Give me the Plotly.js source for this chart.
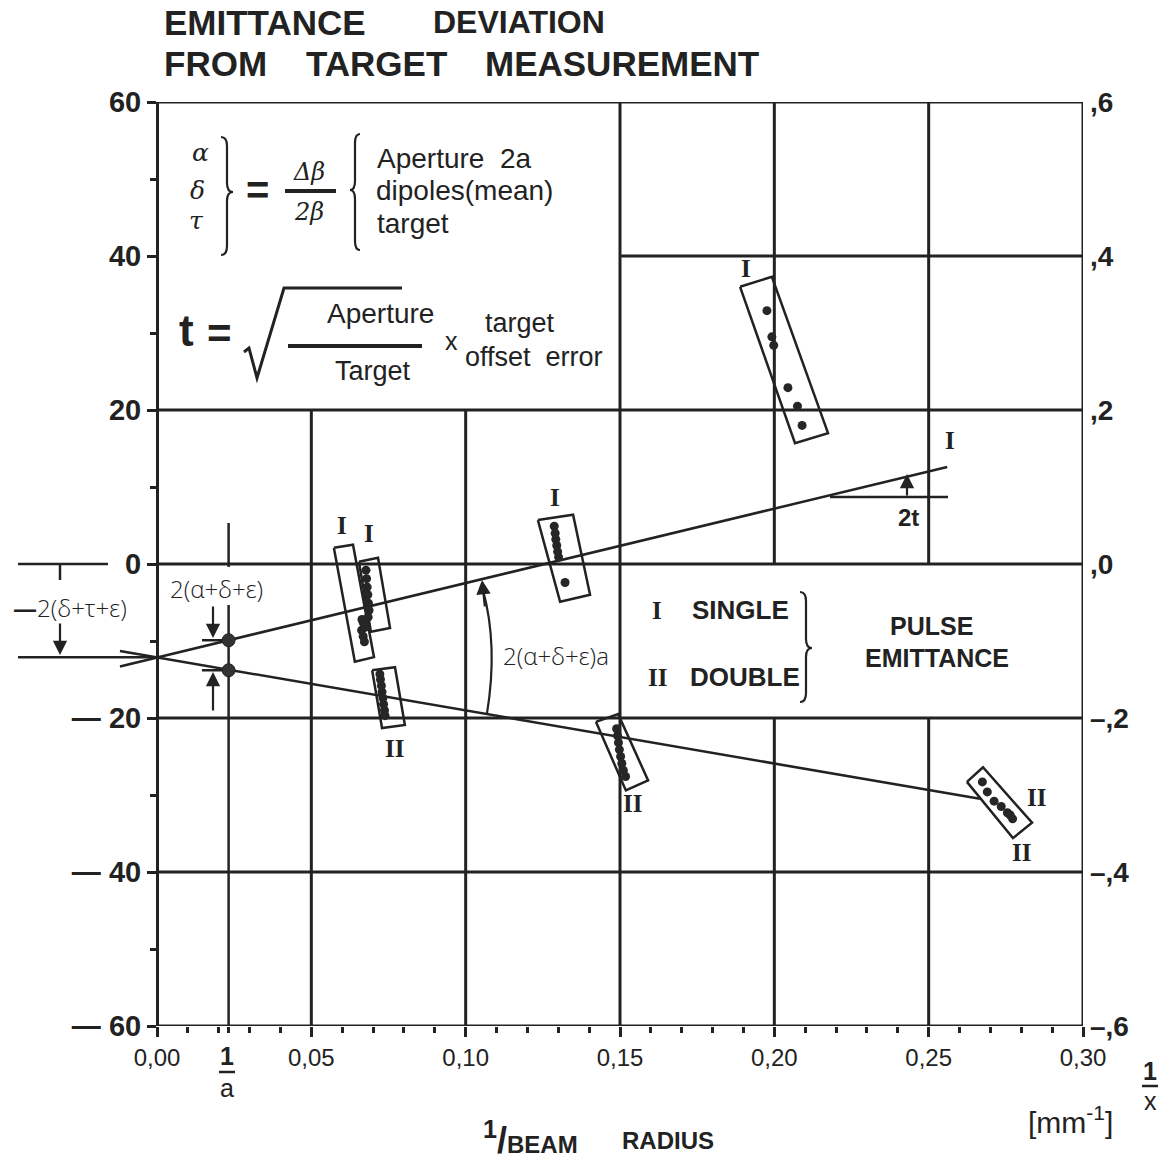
<!DOCTYPE html>
<html>
<head>
<meta charset="utf-8">
<script src="https://cdn.plot.ly/plotly-3.0.1.min.js"></script>
<style>
  html, body { margin: 0; padding: 0; background: #fff; }
  #chart { width: 1168px; height: 1161px; }
</style>
</head>
<body>
<div id="chart"></div>
<script>
// ---- axis ticks --------------------------------------------------------
const xTickVals = [0, 0.05, 0.10, 0.15, 0.20, 0.25, 0.30];
const xTickText = ['0,00', '0,05', '0,10', '0,15', '0,20', '0,25', '0,30'];
const xMinorVals = [0.01, 0.02, 0.03, 0.04, 0.06, 0.07, 0.08, 0.09, 0.11, 0.12, 0.13, 0.14,
                    0.16, 0.17, 0.18, 0.19, 0.21, 0.22, 0.23, 0.24, 0.26, 0.27, 0.28, 0.29];
const yTickVals = [-60, -40, -20, 0, 20, 40, 60];
const yTickText = ['\u2014 60', '\u2014 40', '\u2014 20', '0', '20', '40', '60'];
const yMinorVals = [-50, -30, -10, 10, 30, 50];
const y2TickVals = [-0.6, -0.4, -0.2, 0, 0.2, 0.4, 0.6];
const y2TickText = ['\u2013,6', '\u2013,4', '\u2013,2', ',0', ',2', ',4', ',6'];

// ---- aperture point 1/a and the two fitted lines -----------------------
const invA = 0.0232;
const apertureY = [-9.9, -13.8];
const interceptY = -12.1;
const lineSingleX = [-0.012, 0.256];
const lineSingleY = [-13.3, 12.6];
const lineDoubleX = [-0.012, 0.2666];
const lineDoubleY = [-11.3, -30.5];

// ---- measured points, single pulse (I) --------------------------------
const singleAX = [0.0677, 0.0679, 0.0681, 0.0683, 0.0685, 0.0687, 0.0684, 0.0668, 0.0663, 0.0668, 0.0672, 0.0676, 0.0664];
const singleAY = [-0.8, -1.9, -3.0, -4.0, -5.1, -6.0, -6.9, -7.6, -8.6, -9.4, -10.1, -8.2, -7.2];
const singleBX = [0.1287, 0.1290, 0.1292, 0.1295, 0.1298, 0.1301, 0.1322];
const singleBY = [4.9, 4.0, 3.2, 2.4, 1.6, 0.9, -2.4];
const singleCX = [0.1976, 0.1992, 0.1998, 0.2044, 0.2075, 0.2090];
const singleCY = [32.9, 29.5, 28.4, 22.9, 20.5, 18.0];

// ---- measured points, double pulse (II) --------------------------------
const doubleAX = [0.0722, 0.0724, 0.0727, 0.0729, 0.0732, 0.0734, 0.0737, 0.0739];
const doubleAY = [-14.3, -15.0, -15.8, -16.6, -17.4, -18.2, -19.0, -19.7];
const doubleBX = [0.1489, 0.1492, 0.1495, 0.1498, 0.1502, 0.1506, 0.1511, 0.1518];
const doubleBY = [-21.4, -22.3, -23.2, -24.1, -25.0, -25.9, -26.8, -27.6];
const doubleCX = [0.2674, 0.2690, 0.2712, 0.2735, 0.2755, 0.2772, 0.2764];
const doubleCY = [-28.3, -29.6, -30.8, -31.5, -32.3, -33.1, -32.6];

// ---- enclosing frames of each measurement group (corner points) ---------
const frameSingleA1X = [0.0573, 0.0635, 0.0703, 0.0641];
const frameSingleA1Y = [2.1, 2.5, -12.1, -12.7];
const frameSingleA2X = [0.0654, 0.0716, 0.0755, 0.0693];
const frameSingleA2Y = [0.3, 0.8, -8.3, -8.8];
const frameSingleBX = [0.1234, 0.1348, 0.1403, 0.1306];
const frameSingleBY = [5.7, 6.4, -4.0, -4.9];
const frameSingleCX = [0.1889, 0.1992, 0.2174, 0.2067];
const frameSingleCY = [36.0, 37.3, 17.0, 15.7];
const frameDoubleAX = [0.0697, 0.0771, 0.0803, 0.0729];
const frameDoubleAY = [-13.8, -13.4, -20.9, -21.3];
const frameDoubleBX = [0.1422, 0.1494, 0.1591, 0.1519];
const frameDoubleBY = [-20.5, -19.5, -28.1, -29.4];
const frameDoubleCX = [0.2624, 0.2676, 0.2835, 0.2773];
const frameDoubleCY = [-28.3, -26.4, -33.6, -35.6];

// ---- geometry helpers for the drawing layer ------------------------------
const INK = '#222';
const L = 10, R = 85, T = 102, B = 135, W = 1168, H = 1161;
const plotW = W - L - R, plotH = H - T - B;
const xMin = -(157 - L) / ((1083 - 157) / 0.30);
const pxPerX = (1083 - 157) / 0.30;
const pxPerY = plotH / 120;
// pixel -> data / paper for placing decorations
const X = px => (px - 157) / pxPerX;
const Y = py => (T + plotH / 2 - py) / pxPerY;
const PX = px => (px - L) / plotW;
const PY = py => (H - B - py) / plotH;

const closed = a => a.concat([a[0]]);

function seg(x0, y0, x1, y1, w) {
  return {type: 'line', xref: 'x', yref: 'y', x0: x0, y0: y0, x1: x1, y1: y1,
          line: {color: INK, width: w || 3}, layer: 'below'};
}
function pseg(x0, y0, x1, y1, w) {
  return {type: 'line', xref: 'paper', yref: 'paper', x0: x0, y0: y0, x1: x1, y1: y1,
          line: {color: INK, width: w || 2}};
}
// curly brace; base/tip/top/bottom/mid given in pixels
function brace(base, tip, top, bot, mid) {
  const xm = (base + tip) / 2, r = 9;
  const p = (a, b) => X(a) + ',' + Y(b);
  const d = 'M' + p(base, top) + ' Q' + p(xm, top) + ' ' + p(xm, top + r) +
            ' L' + p(xm, mid - r) + ' Q' + p(xm, mid) + ' ' + p(tip, mid) +
            ' Q' + p(xm, mid) + ' ' + p(xm, mid + r) +
            ' L' + p(xm, bot - r) + ' Q' + p(xm, bot) + ' ' + p(base, bot);
  return {type: 'path', xref: 'x', yref: 'y', path: d, line: {color: INK, width: 2.2}};
}

// ---- grid and frame ------------------------------------------------------
const shapes = [];
[60, 20, 0, -20, -40, -60].forEach(v => shapes.push(seg(0, v, 0.30, v)));
shapes.push(seg(0.15, 40, 0.30, 40));
shapes.push(seg(0.30, -60, 0.30, 60));
shapes.push(seg(0.05, -60, 0.05, 20));
shapes.push(seg(0.10, -60, 0.10, 20));
shapes.push(seg(0.15, -60, 0.15, 60));
[0.20, 0.25].forEach(v => { shapes.push(seg(v, -60, v, -20)); shapes.push(seg(v, 0, v, 60)); });
// 1/a marker line
shapes.push(seg(invA, Y(523), invA, Y(567), 2.5));
shapes.push(seg(invA, Y(605), invA, -60, 2.5));
// short level marks beside the 1/a points
apertureY.forEach(v => shapes.push(seg(X(202), v, invA, v, 2.5)));
// intercept marker on the left of the axis
shapes.push(seg(X(18), 0, X(108), 0, 2.5));
shapes.push(seg(X(60), 0, X(60), Y(580), 2.5));
shapes.push(seg(X(18), interceptY, 0, interceptY, 2.5));
// slope reference (2t)
shapes.push(seg(X(830), Y(497), X(948), Y(497), 2.5));
// angle arc between both lines
const arcStart = [X(487), Y(713.4)], arcCtl = [X(498.1), Y(645.8)], arcEnd = [X(483), Y(590)];
shapes.push({type: 'path', xref: 'x', yref: 'y', line: {color: INK, width: 2.2},
  path: 'M' + arcStart.join(',') + ' Q' + arcCtl.join(',') + ' ' + arcEnd.join(',')});
// formula: fraction bars and radical
shapes.push(seg(X(285), Y(191), X(336), Y(191), 4));
shapes.push(seg(X(288), Y(346), X(422), Y(346), 4));
shapes.push({type: 'path', xref: 'x', yref: 'y', line: {color: INK, width: 3},
  path: 'M' + X(244) + ',' + Y(352) + ' L' + X(249) + ',' + Y(348) + ' L' + X(257) + ',' + Y(378) +
        ' L' + X(284) + ',' + Y(288) + ' L' + X(402) + ',' + Y(288)});
shapes.push(brace(221, 233, 137, 255, 192));
shapes.push(brace(360, 350, 134, 250, 190));
shapes.push(brace(800, 812, 592, 702, 648));
// 1/a and 1/x fraction bars below the axis
shapes.push(pseg(PX(219), PY(1072), PX(235), PY(1072), 2.5));
shapes.push(pseg(PX(1142), PY(1086), PX(1158), PY(1086), 2.5));

// ---- traces ---------------------------------------------------------------
const lineStyle = {color: INK, width: 2.5};
const frameTrace = (xs, ys) => ({x: closed(xs), y: closed(ys), mode: 'lines', line: {color: INK, width: 2.5},
                                 hoverinfo: 'skip', showlegend: false});
const pointTrace = (xs, ys, name) => ({x: xs, y: ys, mode: 'markers', name: name,
                                       marker: {color: '#262626', size: 9, symbol: 'circle'}, showlegend: false});

const data = [
  {x: lineSingleX, y: lineSingleY, mode: 'lines', line: lineStyle, name: 'I', showlegend: false},
  {x: lineDoubleX, y: lineDoubleY, mode: 'lines', line: lineStyle, name: 'II', showlegend: false},
  frameTrace(frameSingleA1X, frameSingleA1Y),
  frameTrace(frameSingleA2X, frameSingleA2Y),
  frameTrace(frameSingleBX, frameSingleBY),
  frameTrace(frameSingleCX, frameSingleCY),
  frameTrace(frameDoubleAX, frameDoubleAY),
  frameTrace(frameDoubleBX, frameDoubleBY),
  frameTrace(frameDoubleCX, frameDoubleCY),
  pointTrace(singleAX, singleAY, 'I'),
  pointTrace(singleBX, singleBY, 'I'),
  pointTrace(singleCX, singleCY, 'I'),
  pointTrace(doubleAX, doubleAY, 'II'),
  pointTrace(doubleBX, doubleBY, 'II'),
  pointTrace(doubleCX, doubleCY, 'II'),
  {x: [invA, invA], y: apertureY, mode: 'markers', showlegend: false,
   marker: {color: '#333', size: 13, line: {color: INK, width: 1}}},
  {x: [0.15], y: [0], yaxis: 'y2', mode: 'markers', marker: {opacity: 0}, hoverinfo: 'skip', showlegend: false}
];

// ---- text ----------------------------------------------------------------
const SANS = 'Liberation Sans, Arial, sans-serif';
const SERIF = 'Liberation Serif, DejaVu Serif, serif';
const GREEK = 'DejaVu Serif, serif';
const THIN = 'Open Sans, DejaVu Sans, sans-serif';
const NB = '\u00a0';

function txt(x, y, text, font, extra) {
  return Object.assign({x: x, y: y, xref: 'x', yref: 'y', text: text, showarrow: false,
                        xanchor: 'center', yanchor: 'middle',
                        font: Object.assign({family: SANS, size: 24, color: INK}, font)}, extra || {});
}
function ptxt(x, y, text, font, extra) {
  return Object.assign({x: x, y: y, xref: 'paper', yref: 'paper', text: text, showarrow: false,
                        xanchor: 'center', yanchor: 'middle',
                        font: Object.assign({family: SANS, size: 24, color: INK}, font)}, extra || {});
}
function arrow(xHead, yHead, xTail, yTail) {
  return {x: xHead, y: yHead, ax: xTail, ay: yTail, xref: 'x', yref: 'y', axref: 'x', ayref: 'y',
          text: '', showarrow: true, arrowhead: 2, arrowsize: 1.3, arrowwidth: 2.2, arrowcolor: INK};
}
const roman = (x, y, s) => txt(x, y, s, {family: SERIF, size: 25, weight: 'bold'});
const heading = (px, py, s, size) => ptxt(PX(px), PY(py), s, {size: size || 35, weight: 'bold'}, {xanchor: 'left'});

const annotations = [
  // heading
  heading(162, 22, 'EMITTANCE'),
  heading(431, 22, 'DEVIATION', 32),
  heading(162, 63, 'FROM'),
  heading(304, 63, 'TARGET'),
  heading(483, 63, 'MEASUREMENT'),

  // definitions
  txt(X(200), Y(152), '\u03b1', {family: GREEK, size: 25, style: 'italic'}),
  txt(X(197), Y(190), '\u03b4', {family: GREEK, size: 25, style: 'italic'}),
  txt(X(196), Y(220), '\u03c4', {family: GREEK, size: 25, style: 'italic'}),
  txt(X(257), Y(190), '=', {size: 40, weight: 'bold'}),
  txt(X(309), Y(172), '\u0394\u03b2', {family: GREEK, size: 24, style: 'italic'}),
  txt(X(309), Y(212), '2\u03b2', {family: GREEK, size: 24, style: 'italic'}),
  txt(X(375), Y(158), 'Aperture' + NB + NB + '2a', {size: 28}, {xanchor: 'left'}),
  txt(X(374), Y(190), 'dipoles(mean)', {size: 28}, {xanchor: 'left'}),
  txt(X(375), Y(223), 'target', {size: 28}, {xanchor: 'left'}),
  txt(X(186), Y(330), 't', {size: 44, weight: 'bold'}),
  txt(X(219), Y(333), '=', {size: 42, weight: 'bold'}),
  txt(X(380), Y(313), 'Aperture', {size: 28}),
  txt(X(373), Y(371), 'Target', {size: 27}),
  txt(X(451), Y(341), 'x', {size: 25}),
  txt(X(520), Y(323), 'target', {size: 27}),
  txt(X(534), Y(357), 'offset' + NB + NB + 'error', {size: 27}),

  // intercept and slope labels
  txt(X(70), Y(607), '<b>\u2014</b>2(\u03b4+\u03c4+\u03b5)', {family: THIN, size: 24, weight: 300}),
  txt(X(216), Y(588), '2(\u03b1+\u03b4+\u03b5)', {family: THIN, size: 24, weight: 300}),
  txt(X(556), Y(655), '2(\u03b1+\u03b4+\u03b5)a', {family: THIN, size: 24, weight: 300}),
  txt(X(908), Y(517), '2t', {size: 24, weight: 'bold'}),
  arrow(X(60), Y(655), X(60), Y(622)),
  arrow(X(213), Y(638), X(213), Y(605)),
  arrow(X(213), Y(672), X(213), Y(712)),
  arrow(X(482), Y(580), X(485), Y(608)),
  arrow(X(907), Y(474), X(907), Y(497)),

  // group numerals
  roman(X(342), Y(525), 'I'),
  roman(X(369), Y(533), 'I'),
  roman(X(394), Y(748), 'II'),
  roman(X(555), Y(497), 'I'),
  roman(X(632), Y(803), 'II'),
  roman(X(746), Y(268), 'I'),
  roman(X(950), Y(440), 'I'),
  roman(X(1036), Y(797), 'II'),
  roman(X(1021), Y(852), 'II'),

  // key
  roman(X(657), Y(610), 'I'),
  roman(X(657), Y(677), 'II'),
  txt(X(690), Y(610), 'SINGLE', {size: 26, weight: 'bold'}, {xanchor: 'left'}),
  txt(X(688), Y(677), 'DOUBLE', {size: 26, weight: 'bold'}, {xanchor: 'left'}),
  txt(X(931), Y(626), 'PULSE', {size: 25, weight: 'bold'}),
  txt(X(937), Y(658), 'EMITTANCE', {size: 25, weight: 'bold'}),

  // axis captions
  ptxt(PX(227), PY(1056), '1', {size: 25, weight: 'bold'}),
  ptxt(PX(227), PY(1088), 'a', {size: 25}),
  ptxt(PX(1150), PY(1071), '1', {size: 25, weight: 'bold'}),
  ptxt(PX(1150), PY(1101), 'x', {size: 25}),
  ptxt(PX(1070), PY(1120), '[mm<sup>-1</sup>]', {size: 30}),
  ptxt(PX(530), PY(1138), '<span style="font-size:36px"><sup>1</sup>/</span>BEAM', {size: 24, weight: 'bold'}),
  ptxt(PX(668), PY(1140), 'RADIUS', {size: 24, weight: 'bold'})
];

const layout = {
  width: W, height: H,
  margin: {l: L, r: R, t: T, b: B},
  paper_bgcolor: '#fff', plot_bgcolor: '#fff',
  showlegend: false,
  font: {family: SANS, color: INK},
  xaxis: {
    range: [xMin, 0.30], showgrid: false, zeroline: false, showline: false,
    tickmode: 'array', tickvals: xTickVals, ticktext: xTickText,
    ticks: 'outside', ticklen: 10, tickwidth: 3, tickcolor: INK, ticklabelstandoff: 0,
    tickfont: {family: SANS, size: 24, color: INK},
    minor: {tickmode: 'array', tickvals: xMinorVals.concat([invA]), ticks: 'outside', ticklen: 6, tickwidth: 3, tickcolor: INK}
  },
  yaxis: {
    range: [-60, 60], anchor: 'free', position: (157 - L) / plotW,
    showgrid: false, zeroline: false, showline: true, linewidth: 3, linecolor: INK,
    tickmode: 'array', tickvals: yTickVals, ticktext: yTickText,
    ticks: 'outside', ticklen: 9, tickwidth: 3, tickcolor: INK,
    tickfont: {family: SANS, size: 29, weight: 'bold', color: INK},
    minor: {tickmode: 'array', tickvals: yMinorVals, ticks: 'outside', ticklen: 6, tickwidth: 3, tickcolor: INK}
  },
  yaxis2: {
    range: [-0.6, 0.6], overlaying: 'y', side: 'right', anchor: 'x',
    showgrid: false, zeroline: false, showline: false, ticks: '', ticklabelstandoff: 6,
    tickmode: 'array', tickvals: y2TickVals, ticktext: y2TickText,
    tickfont: {family: SANS, size: 28, weight: 'bold', color: INK}
  },
  shapes: shapes,
  annotations: annotations
};

Plotly.newPlot('chart', data, layout, {staticPlot: true, displayModeBar: false});
</script>
</body>
</html>
